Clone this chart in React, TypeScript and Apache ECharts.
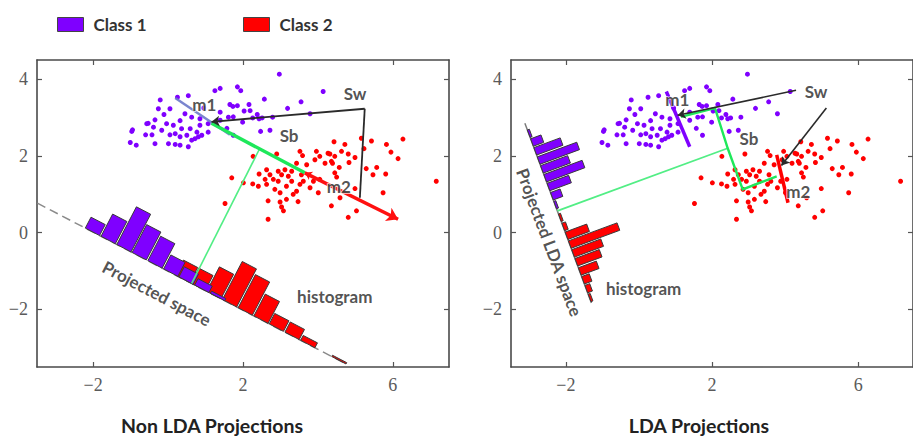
import React, { useEffect, useRef } from "react";
import * as echarts from "echarts";

// ---------- data ----------
const class1Points: number[][] = [
  [1.39, 3.76], [1.25, 3.70], [-0.21, 3.46], [0.25, 3.53], [0.54, 3.57], [-0.26, 3.23], [0.05, 3.23],
  [-0.11, 3.08], [0.45, 3.10], [1.65, 3.34], [1.39, 3.14], [-0.35, 2.94], [-0.57, 2.84], [-0.04, 2.84],
  [0.14, 2.80], [0.32, 2.92], [0.63, 3.01], [0.85, 2.97], [1.61, 3.01], [-0.39, 2.75], [-0.17, 2.67],
  [0.36, 2.71], [0.59, 2.71], [0.85, 2.80], [1.07, 2.84], [-0.97, 2.64], [-0.43, 2.55], [0.19, 2.58],
  [0.50, 2.54], [0.77, 2.62], [0.90, 2.54], [1.07, 2.62], [-1.01, 2.35], [-0.85, 2.28], [-0.35, 2.32],
  [0.01, 2.32], [0.19, 2.30], [0.32, 2.28], [0.54, 2.24], [0.72, 2.45], [0.81, 2.50], [0.32, 2.50],
  [0.63, 2.41], [2.97, 4.13], [1.85, 3.80], [1.94, 3.70], [4.14, 3.68], [2.57, 3.48], [3.55, 3.41],
  [1.73, 3.29], [1.85, 3.31], [2.16, 3.34], [2.03, 3.17], [2.19, 3.18], [3.19, 3.24], [3.79, 3.10],
  [2.38, 3.08], [2.26, 2.99], [2.43, 2.97], [2.51, 2.99], [2.79, 3.01], [1.99, 2.88], [2.47, 2.64],
  [2.72, 2.67], [1.74, 2.54], [1.39, 2.93], [1.57, 2.72], [1.74, 3.02], [-0.95, 2.68], [-0.53, 2.85],
  [0.95, 3.25], [-0.6, 2.55], [0.05, 2.55],
];

const class2Points: number[][] = [
  [2.27, 1.99], [2.90, 2.05], [3.52, 2.12], [3.59, 2.01], [3.96, 2.12], [4.05, 1.99], [4.27, 2.07],
  [3.92, 1.90], [4.19, 1.81], [4.36, 1.86], [3.43, 1.81], [3.70, 1.77], [2.63, 1.64], [2.94, 1.60],
  [3.12, 1.64], [3.30, 1.60], [2.43, 1.53], [2.72, 1.51], [3.03, 1.51], [3.21, 1.47], [3.56, 1.51],
  [1.70, 1.43], [2.59, 1.39], [2.81, 1.39], [2.94, 1.34], [3.30, 1.34], [3.61, 1.34], [3.88, 1.34],
  [4.05, 1.39], [2.26, 1.27], [2.41, 1.21], [2.63, 1.26], [3.16, 1.21], [3.52, 1.26], [2.01, 1.30],
  [2.85, 1.13], [2.99, 1.04], [3.43, 1.08], [3.79, 1.17], [4.01, 1.04], [3.34, 1.00], [3.16, 0.87],
  [2.67, 0.83], [2.99, 0.80], [3.47, 0.81], [3.03, 0.67], [3.08, 0.57], [1.52, 0.76], [4.36, 0.70],
  [2.67, 0.35], [5.16, 2.46], [5.43, 2.39], [6.27, 2.44], [4.43, 2.37], [4.72, 2.30], [5.83, 2.30],
  [5.23, 2.19], [5.95, 2.10], [4.63, 2.12], [4.81, 2.05], [4.99, 1.96], [4.32, 2.05], [4.45, 1.99],
  [6.14, 1.93], [4.83, 1.83], [4.39, 1.81], [4.57, 1.70], [5.29, 1.67], [5.57, 1.70], [4.45, 1.56],
  [5.47, 1.51], [5.81, 1.53], [4.50, 1.45], [7.16, 1.34], [4.99, 1.15], [5.74, 1.04], [4.59, 0.91],
  [5.03, 0.57], [4.81, 0.40],
];

// projection lines (data coordinates of their two ends)
const leftProjLine: number[][] = [[-3.49, 0.77], [4.67, -3.38]];
const rightProjLine: number[][] = [[-3.12, 2.85], [-1.30, -1.83]];

// histograms on the projected line (bin centres along x for left, along y for right)
const leftBinWidth = 0.418;
const leftClass1Bins = [-2.02, -1.60, -1.18, -0.77, -0.35, 0.07, 0.48, 0.90, 1.32];
const leftClass1Freq = [2.9, 5.9, 10, 7.4, 6.5, 3.7, 2.7, 1.7, 0.6];
const leftClass2Bins = [0.39, 0.80, 1.22, 1.64, 2.06, 2.48, 2.89, 3.31, 3.73, 4.15, 4.56];
const leftClass2Freq = [4, 4, 6.5, 10.1, 8.8, 5.8, 2.8, 2.7, 1.3, 0, 0.35];

const rightBinWidth = 0.232;
const rightClass1Bins = [2.58, 2.35, 2.12, 1.88, 1.65, 1.42, 1.19, 0.95, 0.72];
const rightClass1Freq = [0.5, 2.6, 6.6, 9.9, 6.8, 9.6, 5.4, 2.4, 0.5];
const rightClass2Bins = [0.39, 0.15, -0.08, -0.31, -0.54, -0.77, -1.01, -1.24, -1.47, -1.70];
const rightClass2Freq = [0.5, 0.9, 5.4, 12.2, 7.3, 6.1, 4.5, 1.9, 1.2, 0.5];

// annotation paths (data coordinates)
const leftM1Seg = [[0.19, 3.51], [1.65, 2.55]];
const leftSbSeg = [[1.16, 2.85], [3.65, 1.56]];
const leftRedArrow = [[3.65, 1.56], [6.14, 0.35]];
const leftGreenProj = [[2.45, 2.20], [0.63, -1.32]];
const leftSwPath = [[5.12, 0.91], [5.25, 3.23], [1.16, 2.89]];

const rightM1Seg = [[0.75, 3.68], [1.39, 2.24]];
const rightM2Seg = [[3.77, 2.03], [4.08, 0.78]];
const rightGreenPath = [[1.15, 3.02], [2.08, 3.25], [2.43, 2.20], [2.84, 1.13], [3.77, 1.47]];
const rightGreenProj = [[2.43, 2.20], [-2.23, 0.57]];
const rightSwArrow1 = [[4.30, 3.71], [1.06, 3.06]];
const rightSwArrow2 = [[5.13, 3.25], [3.90, 1.75]];

const leftLabels = [
  { name: "m1", value: [0.97, 3.34] },
  { name: "Sw", value: [4.99, 3.62] },
  { name: "Sb", value: [3.23, 2.53] },
  { name: "m2", value: [4.56, 1.21] },
  { name: "histogram", value: [4.45, -1.67] },
];
const rightLabels = [
  { name: "m1", value: [1.05, 3.48] },
  { name: "Sw", value: [4.85, 3.68] },
  { name: "Sb", value: [3.01, 2.46] },
  { name: "m2", value: [4.36, 1.07] },
  { name: "histogram", value: [0.13, -1.45] },
];
const leftSpaceLabel = { name: "Projected space", value: [-0.30, -1.58], angle: -27.7 };
const rightSpaceLabel = { name: "Projected LDA space", value: [-2.45, -0.25], angle: -69.4 };

const xTicks = [-2, 2, 6];
const yTicks = [-2, 0, 2, 4];
const panelTitles = ["Non LDA Projections", "LDA Projections"];
const classNames = ["Class 1", "Class 2"];

// ---------- styles ----------
const PURPLE = "#7f00ff";
const RED = "#ff0000";
const GREEN = "#1ee85a";
const LIGHT_GREEN = "#52ee85";
const K = 4.25; // px per frequency unit
const SANS = "Lato, 'Open Sans', sans-serif";
const SERIF = "'Times New Roman', 'Liberation Serif', 'DejaVu Serif', serif";

const fmt = (v: number) => "{s|" + (v < 0 ? "\u2212" + Math.abs(v) : String(v)) + "}";

function histSeries(name: string, g: number, line: number[][], key: "x" | "y", width: number,
  centers: number[], freqs: number[], color: string, z: number) {
  return {
    type: "custom",
    name,
    xAxisIndex: g,
    yAxisIndex: g,
    z,
    silent: true,
    data: centers.map((c, i) => [c, freqs[i]]),
    renderItem: (params: any, api: any) => {
      const c = api.value(0);
      const f = api.value(1);
      if (!f) return null;
      const p0 = line[0], p1 = line[1];
      const at = (v: number) =>
        key === "x"
          ? [v, p0[1] + ((v - p0[0]) * (p1[1] - p0[1])) / (p1[0] - p0[0])]
          : [p0[0] + ((v - p0[1]) * (p1[0] - p0[0])) / (p1[1] - p0[1]), v];
      let a = api.coord(at(c - width / 2));
      let b = api.coord(at(c + width / 2));
      const dx = b[0] - a[0], dy = b[1] - a[1];
      const len = Math.hypot(dx, dy);
      const ux = dx / len, uy = dy / len;
      const gap = 0.8;
      a = [a[0] + ux * gap, a[1] + uy * gap];
      b = [b[0] - ux * gap, b[1] - uy * gap];
      let nx = uy, ny = -ux;
      if (nx < 0) { nx = -nx; ny = -ny; }
      const h = f * K;
      return {
        type: "polygon",
        shape: { points: [a, b, [b[0] + nx * h, b[1] + ny * h], [a[0] + nx * h, a[1] + ny * h]] },
        style: { fill: color, stroke: "#3a3a3a", lineWidth: 1 },
      };
    },
  };
}

// plain polyline (no arrows)
function pathSeries(g: number, pts: number[][], color: string, width: number, z: number,
  dashed = false, opacity = 1) {
  return {
    type: "lines",
    coordinateSystem: "cartesian2d",
    xAxisIndex: g,
    yAxisIndex: g,
    polyline: true,
    silent: true,
    z,
    symbol: ["none", "none"],
    data: [{ coords: pts }],
    lineStyle: { color, width, opacity, type: dashed ? [9, 5] : "solid" },
  };
}

// single segment with arrow head(s)
function arrowSeries(g: number, seg: number[][], color: string, width: number, z: number,
  size: number, startSize = 0) {
  return {
    type: "lines",
    coordinateSystem: "cartesian2d",
    xAxisIndex: g,
    yAxisIndex: g,
    polyline: false,
    silent: true,
    z,
    symbol: [startSize ? "arrow" : "none", "arrow"],
    symbolSize: [startSize || size, size],
    data: [{ coords: seg }],
    lineStyle: { color, width, opacity: 1 },
  };
}

function labelSeries(g: number, items: any[], z: number) {
  return {
    type: "scatter",
    xAxisIndex: g,
    yAxisIndex: g,
    symbolSize: 0,
    silent: true,
    z,
    data: items.map((it) => ({
      name: it.name,
      value: it.value,
      label: it.angle !== undefined ? { rotate: it.angle } : undefined,
    })),
    label: {
      show: true,
      formatter: "{b}",
      position: "inside",
      align: "center",
      verticalAlign: "middle",
      fontFamily: SANS,
      fontWeight: "bold",
      fontSize: 17,
      color: "#262626",
      textBorderColor: "#ffffff",
      textBorderWidth: 1.5,
    },
  };
}

export default function App() {
  const ref = useRef<HTMLDivElement>(null);
  useEffect(() => {
    if (!ref.current) return;
    const chart = echarts.init(ref.current, undefined, { renderer: "svg" });

    const axisLine = { show: true, lineStyle: { color: "#4a4a4a", width: 1.6 } };
    const tickLabel = {
      show: true, formatter: fmt, margin: 9,
      rich: { s: { fontFamily: SERIF, fontSize: 18, fontWeight: "normal", color: "#5a5a5a" } },
    };
    const xBase = (g: number, pos: "bottom" | "top") => ({
      type: "value",
      gridIndex: g,
      position: pos,
      min: -3.5,
      max: 7.5,
      splitLine: { show: false },
      axisLine: { ...axisLine, onZero: false },
      axisTick: { show: true, inside: true, length: 5, customValues: xTicks, lineStyle: { color: "#555", width: 1.2 } },
      axisLabel: pos === "bottom" ? { ...tickLabel, customValues: xTicks } : { show: false },
    });
    const yBase = (g: number, pos: "left" | "right") => ({
      type: "value",
      gridIndex: g,
      position: pos,
      min: -3.5,
      max: 4.5,
      splitLine: { show: false },
      axisLine: { ...axisLine, onZero: false },
      axisTick: { show: true, inside: true, length: 5, customValues: yTicks, lineStyle: { color: "#555", width: 1.2 } },
      axisLabel: pos === "left" ? { ...tickLabel, customValues: yTicks } : { show: false },
    });

    const scatter = (g: number, name: string, pts: number[][], color: string) => ({
      type: "scatter",
      name,
      xAxisIndex: g,
      yAxisIndex: g,
      data: pts,
      symbolSize: 5,
      itemStyle: { color, opacity: 1 },
      z: 2,
      silent: true,
    });

    const legendItem = (name: string, left: number) => ({
      data: [name], left, top: 16, padding: 0, itemWidth: 26, itemHeight: 14, icon: "rect",
      itemStyle: { borderColor: "#444", borderWidth: 1, opacity: 1 },
      textStyle: { fontFamily: SANS, fontWeight: "bold", fontSize: 17, color: "#333", padding: [0, 0, 0, 5] },
      selectedMode: false,
    });

    const option: any = {
      animation: false,
      backgroundColor: "#ffffff",
      legend: [legendItem(classNames[0], 57), legendItem(classNames[1], 243)],
      grid: [
        { left: 37, top: 60, width: 412, height: 307 },
        { left: 511, top: 60, width: 412, height: 307 },
      ],
      xAxis: [xBase(0, "bottom"), xBase(1, "bottom"), xBase(0, "top"), xBase(1, "top")],
      yAxis: [yBase(0, "left"), yBase(1, "left"), yBase(0, "right"), yBase(1, "right")],
      graphic: [
        {
          type: "text", x: 212, y: 425,
          style: { text: panelTitles[0], fill: "#222", font: `bold 19.5px ${SANS}`, textAlign: "center", textVerticalAlign: "middle" },
        },
        {
          type: "text", x: 699, y: 425,
          style: { text: panelTitles[1], fill: "#222", font: `bold 19.5px ${SANS}`, textAlign: "center", textVerticalAlign: "middle" },
        },
      ],
      series: [
        // left panel
        scatter(0, classNames[0], class1Points, PURPLE),
        scatter(0, classNames[1], class2Points, RED),
        pathSeries(0, leftProjLine, "#8a8a8a", 1.5, 3, true),
        histSeries("hist-l-2", 0, leftProjLine, "x", leftBinWidth, leftClass2Bins, leftClass2Freq, RED, 4),
        histSeries("hist-l-1", 0, leftProjLine, "x", leftBinWidth, leftClass1Bins, leftClass1Freq, PURPLE, 5),
        pathSeries(0, leftM1Seg, "#6b78c9", 2.5, 6, false, 0.9),
        pathSeries(0, leftGreenProj, LIGHT_GREEN, 1.6, 6),
        pathSeries(0, leftSbSeg, GREEN, 3.5, 6),
        arrowSeries(0, leftRedArrow, "#ff1010", 3.5, 6, 11, 7),
        pathSeries(0, leftSwPath.slice(0, leftSwPath.length - 1), "#2a2a2a", 1.8, 7),
        arrowSeries(0, leftSwPath.slice(leftSwPath.length - 2), "#2a2a2a", 1.8, 7, 8),
        labelSeries(0, [...leftLabels, leftSpaceLabel], 10),
        // right panel
        scatter(1, classNames[0], class1Points, PURPLE),
        scatter(1, classNames[1], class2Points, RED),
        pathSeries(1, rightProjLine, "#7a7a7a", 1.5, 3),
        histSeries("hist-r-1", 1, rightProjLine, "y", rightBinWidth, rightClass1Bins, rightClass1Freq, PURPLE, 5),
        histSeries("hist-r-2", 1, rightProjLine, "y", rightBinWidth, rightClass2Bins, rightClass2Freq, RED, 5),
        pathSeries(1, rightM1Seg, PURPLE, 3.5, 6),
        pathSeries(1, rightM2Seg, RED, 3.5, 6),
        pathSeries(1, rightGreenProj, LIGHT_GREEN, 1.8, 6),
        pathSeries(1, rightGreenPath, GREEN, 2.4, 6),
        arrowSeries(1, rightSwArrow1, "#2a2a2a", 1.6, 7, 8),
        arrowSeries(1, rightSwArrow2, "#2a2a2a", 1.6, 7, 8),
        labelSeries(1, [...rightLabels, rightSpaceLabel], 10),
      ],
    };

    chart.setOption(option);
    return () => chart.dispose();
  }, []);

  return (
    <div
      ref={ref}
      style={{ position: "absolute", left: 0, top: 0, width: 913, height: 436, background: "#fff" }}
    />
  );
}
